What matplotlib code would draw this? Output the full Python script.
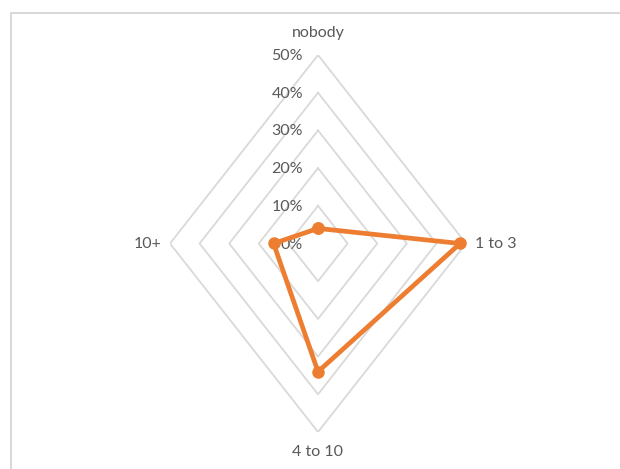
import numpy as np
import matplotlib.pyplot as plt
from matplotlib.lines import Line2D

categories = ['nobody', '1 to 3', '4 to 10', '10+']
shares = [4, 48, 34, 15]
rings = [0, 10, 20, 30, 40, 50]
ring_labels = ['0%', '10%', '20%', '30%', '40%', '50%']

plt.rcParams['font.family'] = ['Lato', 'DejaVu Sans']
text_color = '#595959'
grid_color = '#d9d9d9'
line_color = '#ED7D31'

# spokes go clockwise from the top
angles = np.arange(len(categories)) * 2 * np.pi / len(categories)
sx, sy = np.sin(angles), np.cos(angles)

fig = plt.figure(figsize=(6.2, 4.69), dpi=100)
ax = fig.add_axes([170 / 620, 37 / 469, 296 / 620, 377 / 469])
ax.set_xlim(-50, 50)
ax.set_ylim(-50, 50)
ax.axis('off')

# diamond gridlines
for r in rings[1:]:
    ax.plot(np.append(sx, sx[0]) * r, np.append(sy, sy[0]) * r,
            color=grid_color, lw=1.3, zorder=1)

# ring value labels up the top spoke
for r, lab in zip(rings, ring_labels):
    ax.annotate(lab, xy=(0, r), xytext=(-15, -1), textcoords='offset pixels',
                ha='right', va='center', fontsize=11.5, color=text_color)

# category labels just outside each spoke
outer = rings[-1]
offsets = [(0, 22, 'center', 'center'), (9, 0, 'left', 'center'),
           (0, -20, 'center', 'center'), (-9, 0, 'right', 'center')]
for cat, x, y, (dx, dy, ha, va) in zip(categories, sx, sy, offsets):
    ax.annotate(cat, xy=(x * outer, y * outer), xytext=(dx, dy),
                textcoords='offset pixels', ha=ha, va=va,
                fontsize=11.5, color=text_color)

vals = np.array(shares, dtype=float)
px = np.append(sx * vals, sx[0] * vals[0])
py = np.append(sy * vals, sy[0] * vals[0])
ax.plot(px, py, color=line_color, lw=3.4, marker='o', markersize=8,
        solid_joinstyle='round', zorder=3, clip_on=False)

# chart area border (only top and left edges show)
fig.add_artist(Line2D([11 / 620, 11 / 620, 1.0], [0, 456 / 469, 456 / 469],
                      color=grid_color, lw=1.5, transform=fig.transFigure))

fig.savefig('out.png', dpi=100)
